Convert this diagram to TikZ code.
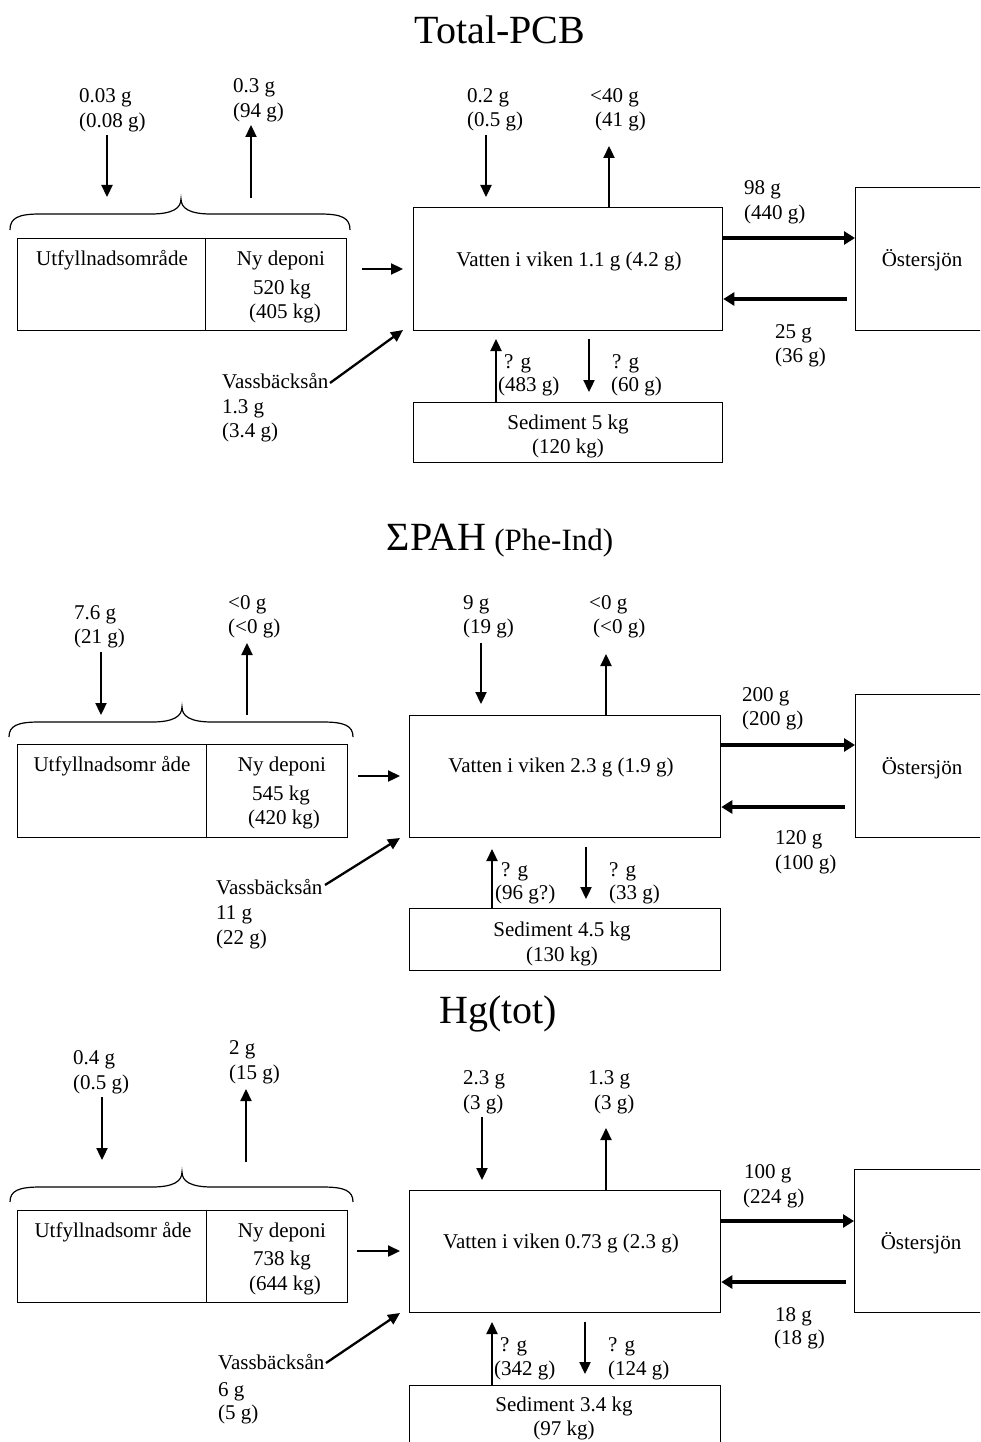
\documentclass[tikz,border=0pt]{standalone}
\usepackage{fontspec}
\setmainfont{Liberation Serif}
\usetikzlibrary{arrows.meta}
\tikzset{
  txt/.style={anchor=base west, inner sep=0pt, font=\fontsize{21}{24}\selectfont},
  ctxt/.style={anchor=base, inner sep=0pt, font=\fontsize{21}{24}\selectfont},
  ttl/.style={anchor=base, inner sep=0pt, font=\fontsize{40}{44}\selectfont},
  bx/.style={draw, line width=1.3pt, anchor=north west, inner sep=0pt},
  arr/.style={line width=2.3pt, -{Triangle[length=12pt,width=11pt]}},
  tarr/.style={line width=3.5pt, -{Triangle[length=11pt,width=13pt]}},
  brc/.style={line width=1.2pt}
}
\newcommand\bracepath[5]{% x1, x2, xm, yend, ytop ; tip = ytop-15
  \draw[brc] (#1,#4) .. controls (#1,#5+4) and (#1+8,#5) .. (#1+30,#5)
    -- (#3-30,#5) .. controls (#3-8,#5) and (#3,#5-6) .. (#3,#5-15)
    .. controls (#3,#5-6) and (#3+8,#5) .. (#3+30,#5)
    -- (#2-30,#5) .. controls (#2-8,#5) and (#2,#5+4) .. (#2,#4);}
\begin{document}
\begin{tikzpicture}[x=1pt,y=-1pt]
\useasboundingbox (0,0) rectangle (980,1442);
\clip (0,0) rectangle (980,1442);

% ================= Panel 1: Total-PCB =================
\node[ttl] (t1) at (500,44) {Total-PCB};

\node[txt] (a1) at (79,103) {0.03 g};
\node[txt] (a1b) at (79,128) {(0.08 g)};
\coordinate (a1s) at (107,135); \coordinate (a1e) at (107,197);
\draw[arr] (a1s) -- (a1e);
\node[txt] (b1) at (233,93) {0.3 g};
\node[txt] (b1b) at (233,118) {(94 g)};
\coordinate (b1s) at (251,198); \coordinate (b1e) at (251,125);
\draw[arr] (b1s) -- (b1e);
\bracepath{10}{350}{181}{230}{214}

\node[bx, minimum width=188pt, minimum height=92pt] (utf1) at (17,238) {};
\node[bx, minimum width=141pt, minimum height=92pt] (ny1) at (205,238) {};
\node[ctxt] (utf1t) at (112,265) {Utfyllnadsområde};
\node[ctxt] (ny1t) at (281,265) {Ny deponi};
\node[ctxt] (ny1a) at (282,294) {520 kg};
\node[ctxt] (ny1b) at (285,318) {(405 kg)};

\node[bx, minimum width=309pt, minimum height=123pt] (vat1) at (413,207) {};
\node[ctxt] (vat1t) at (569,266) {Vatten i viken 1.1 g (4.2 g)};
\coordinate (d1s) at (362,269); \coordinate (d1e) at (403,269);
\draw[arr] (d1s) -- (d1e);

\node[txt] (c1) at (467,103) {0.2 g};
\node[txt] (c1b) at (467,127) {(0.5 g)};
\coordinate (c1s) at (486,135); \coordinate (c1e) at (486,197);
\draw[arr] (c1s) -- (c1e);
\node[txt] (e1) at (590,103) {<40 g};
\node[txt] (e1b) at (595,127) {(41 g)};
\coordinate (e1e) at (609,146);
\draw[arr] (vat1.north -| e1e) -- (e1e);

\node[bx, minimum width=140pt, minimum height=143pt] (ost1) at (855,187) {};
\node[ctxt] (ost1t) at (922,266) {Östersjön};
\coordinate (o1a) at (722,238); \coordinate (o1b) at (847,299);
\draw[tarr] (o1a) -- (ost1.west |- o1a);
\draw[tarr] (o1b) -- (vat1.east |- o1b);
\node[txt] (f1) at (744,194) {98 g};
\node[txt] (f1b) at (744,219) {(440 g)};
\node[txt] (g1) at (775,338) {25 g};
\node[txt] (g1b) at (775,362) {(36 g)};

\node[bx, minimum width=309pt, minimum height=60pt] (sed1) at (413,402) {};
\node[ctxt] (sed1t) at (568,429) {Sediment 5 kg};
\node[ctxt] (sed1b) at (568,453) {(120 kg)};
\coordinate (h1e) at (496,339);
\draw[arr] (sed1.north -| h1e) -- (h1e);
\node[txt] (h1) at (504,368) {? g};
\node[txt] (h1b) at (498,391) {(483 g)};
\coordinate (i1s) at (589,339); \coordinate (i1e) at (589,392);
\draw[arr] (i1s) -- (i1e);
\node[txt] (i1) at (612,368) {? g};
\node[txt] (i1b) at (611,391) {(60 g)};

\node[txt] (v1) at (222,388) {Vassbäcksån};
\node[txt] (v1a) at (222,413) {1.3 g};
\node[txt] (v1b) at (222,437) {(3.4 g)};
\coordinate (v1s) at (330,383); \coordinate (v1e) at (403,330);
\draw[arr] (v1s) -- (v1e);

% ================= Panel 2: PAH =================
\node[anchor=base, inner sep=0pt] (t2) at (500,550)
  {{\fontsize{40}{44}\selectfont ΣPAH}\hspace{8pt}{\fontsize{31}{34}\selectfont (Phe-Ind)}};

\node[txt] (a2) at (74,619) {7.6 g};
\node[txt] (a2b) at (74,643) {(21 g)};
\coordinate (a2s) at (101,652); \coordinate (a2e) at (101,715);
\draw[arr] (a2s) -- (a2e);
\node[txt] (b2) at (228,609) {<0 g};
\node[txt] (b2b) at (228,633) {(<0 g)};
\coordinate (b2s) at (247,715); \coordinate (b2e) at (247,643);
\draw[arr] (b2s) -- (b2e);
\bracepath{9}{353}{182}{737}{722}

\node[bx, minimum width=189pt, minimum height=93pt] (utf2) at (17,744) {};
\node[bx, minimum width=141pt, minimum height=93pt] (ny2) at (206,744) {};
\node[ctxt] (utf2t) at (112,771) {Utfyllnadsomr åde};
\node[ctxt] (ny2t) at (282,771) {Ny deponi};
\node[ctxt] (ny2a) at (281,800) {545 kg};
\node[ctxt] (ny2b) at (284,824) {(420 kg)};

\node[bx, minimum width=311pt, minimum height=122pt] (vat2) at (409,715) {};
\node[ctxt] (vat2t) at (561,772) {Vatten i viken 2.3 g (1.9 g)};
\coordinate (d2s) at (358,776); \coordinate (d2e) at (400,776);
\draw[arr] (d2s) -- (d2e);

\node[txt] (c2) at (463,609) {9 g};
\node[txt] (c2b) at (463,633) {(19 g)};
\coordinate (c2s) at (481,643); \coordinate (c2e) at (481,704);
\draw[arr] (c2s) -- (c2e);
\node[txt] (e2) at (589,609) {<0 g};
\node[txt] (e2b) at (593,633) {(<0 g)};
\coordinate (e2e) at (606,654);
\draw[arr] (vat2.north -| e2e) -- (e2e);

\node[bx, minimum width=140pt, minimum height=143pt] (ost2) at (855,694) {};
\node[ctxt] (ost2t) at (922,774) {Östersjön};
\coordinate (o2a) at (720,745); \coordinate (o2b) at (845,807);
\draw[tarr] (o2a) -- (ost2.west |- o2a);
\draw[tarr] (o2b) -- (vat2.east |- o2b);
\node[txt] (f2) at (742,701) {200 g};
\node[txt] (f2b) at (742,725) {(200 g)};
\node[txt] (g2) at (775,844) {120 g};
\node[txt] (g2b) at (775,869) {(100 g)};

\node[bx, minimum width=311pt, minimum height=62pt] (sed2) at (409,908) {};
\node[ctxt] (sed2t) at (562,936) {Sediment 4.5 kg};
\node[ctxt] (sed2b) at (562,961) {(130 kg)};
\coordinate (h2e) at (492,849);
\draw[arr] (sed2.north -| h2e) -- (h2e);
\node[txt] (h2) at (501,876) {? g};
\node[txt] (h2b) at (495,899) {(96 g?)};
\coordinate (i2s) at (586,847); \coordinate (i2e) at (586,899);
\draw[arr] (i2s) -- (i2e);
\node[txt] (i2) at (609,876) {? g};
\node[txt] (i2b) at (609,899) {(33 g)};

\node[txt] (v2) at (216,894) {Vassbäcksån};
\node[txt] (v2a) at (216,919) {11 g};
\node[txt] (v2b) at (216,944) {(22 g)};
\coordinate (v2s) at (325,885); \coordinate (v2e) at (400,838);
\draw[arr] (v2s) -- (v2e);

% ================= Panel 3: Hg(tot) =================
\node[ttl] (t3) at (498,1023) {Hg(tot)};

\node[txt] (a3) at (73,1064) {0.4 g};
\node[txt] (a3b) at (73,1089) {(0.5 g)};
\coordinate (a3s) at (102,1097); \coordinate (a3e) at (102,1160);
\draw[arr] (a3s) -- (a3e);
\node[txt] (b3) at (229,1054) {2 g};
\node[txt] (b3b) at (229,1079) {(15 g)};
\coordinate (b3s) at (246,1162); \coordinate (b3e) at (246,1089);
\draw[arr] (b3s) -- (b3e);
\bracepath{10}{353}{182}{1202}{1187}

\node[bx, minimum width=189pt, minimum height=92pt] (utf3) at (17,1210) {};
\node[bx, minimum width=141pt, minimum height=92pt] (ny3) at (206,1210) {};
\node[ctxt] (utf3t) at (113,1237) {Utfyllnadsomr åde};
\node[ctxt] (ny3t) at (282,1237) {Ny deponi};
\node[ctxt] (ny3a) at (282,1265) {738 kg};
\node[ctxt] (ny3b) at (285,1290) {(644 kg)};

\node[bx, minimum width=311pt, minimum height=122pt] (vat3) at (409,1190) {};
\node[ctxt] (vat3t) at (561,1248) {Vatten i viken 0.73 g (2.3 g)};
\coordinate (d3s) at (357,1251); \coordinate (d3e) at (400,1251);
\draw[arr] (d3s) -- (d3e);

\node[txt] (c3) at (463,1084) {2.3 g};
\node[txt] (c3b) at (463,1109) {(3 g)};
\coordinate (c3s) at (482,1117); \coordinate (c3e) at (482,1180);
\draw[arr] (c3s) -- (c3e);
\node[txt] (e3) at (588,1084) {1.3 g};
\node[txt] (e3b) at (594,1109) {(3 g)};
\coordinate (e3e) at (606,1128);
\draw[arr] (vat3.north -| e3e) -- (e3e);

\node[bx, minimum width=140pt, minimum height=143pt] (ost3) at (854,1169) {};
\node[ctxt] (ost3t) at (921,1249) {Östersjön};
\coordinate (o3a) at (720,1221); \coordinate (o3b) at (846,1282);
\draw[tarr] (o3a) -- (ost3.west |- o3a);
\draw[tarr] (o3b) -- (vat3.east |- o3b);
\node[txt] (f3) at (744,1178) {100 g};
\node[txt] (f3b) at (743,1203) {(224 g)};
\node[txt] (g3) at (775,1321) {18 g};
\node[txt] (g3b) at (774,1344) {(18 g)};

\node[bx, minimum width=311pt, minimum height=80pt] (sed3) at (409,1385) {};
\node[ctxt] (sed3t) at (564,1411) {Sediment 3.4 kg};
\node[ctxt] (sed3b) at (564,1435) {(97 kg)};
\coordinate (h3e) at (492,1322);
\draw[arr] (sed3.north -| h3e) -- (h3e);
\node[txt] (h3) at (500,1351) {? g};
\node[txt] (h3b) at (494,1375) {(342 g)};
\coordinate (i3s) at (585,1322); \coordinate (i3e) at (585,1374);
\draw[arr] (i3s) -- (i3e);
\node[txt] (i3) at (608,1351) {? g};
\node[txt] (i3b) at (608,1375) {(124 g)};

\node[txt] (v3) at (218,1369) {Vassbäcksån};
\node[txt] (v3a) at (218,1396) {6 g};
\node[txt] (v3b) at (218,1419) {(5 g)};
\coordinate (v3s) at (326,1363); \coordinate (v3e) at (400,1313);
\draw[arr] (v3s) -- (v3e);
\end{tikzpicture}
\end{document}
